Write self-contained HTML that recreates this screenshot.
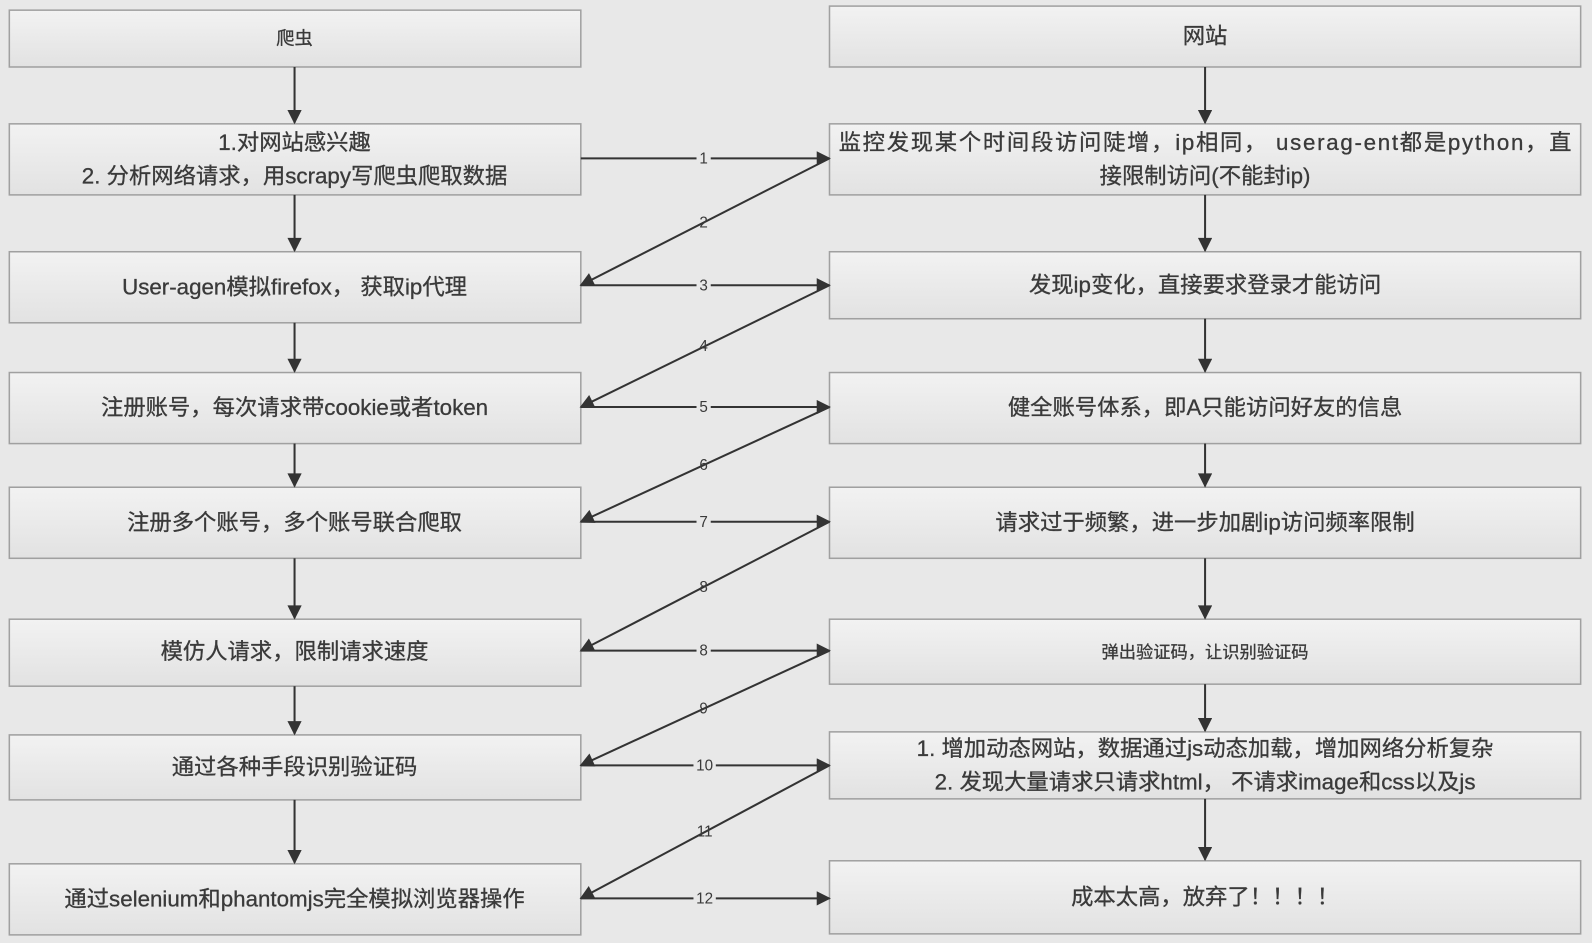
<!DOCTYPE html>
<html><head><meta charset="utf-8"><style>
html,body{margin:0;padding:0;background:#e8e8e8;}
svg{display:block}
text{font-family:"Liberation Sans","Noto Sans CJK SC",sans-serif;fill:#3a3a3a;}
.t{stroke:#3a3a3a;stroke-width:0.3px;}
</style></head><body>
<svg width="1592" height="943" viewBox="0 0 1568 929" xmlns="http://www.w3.org/2000/svg">
<defs>
<linearGradient id="g" x1="0" y1="0" x2="0" y2="1"><stop offset="0" stop-color="#f2f2f2"/><stop offset="1" stop-color="#e2e2e2"/></linearGradient>
<marker id="b" viewBox="0 0 10 10" refX="9" refY="5" markerWidth="16" markerHeight="14" markerUnits="userSpaceOnUse" orient="auto"><path d="M0,0 L10,5 L0,10 z" fill="#333"/></marker>
</defs>
<rect width="1568" height="929" fill="#e8e8e8"/>
<g stroke="#a0a0a0" stroke-width="1.5" fill="url(#g)">
<rect x="9" y="10" width="563" height="56"/><rect x="9" y="122" width="563" height="70"/><rect x="9" y="248" width="563" height="70"/><rect x="9" y="367" width="563" height="70"/><rect x="9" y="480" width="563" height="70"/><rect x="9" y="610" width="563" height="66"/><rect x="9" y="724" width="563" height="64"/><rect x="9" y="851" width="563" height="70"/>
<rect x="817" y="6" width="740" height="60"/><rect x="817" y="122" width="740" height="70"/><rect x="817" y="248" width="740" height="66"/><rect x="817" y="367" width="740" height="70"/><rect x="817" y="480" width="740" height="70"/><rect x="817" y="610" width="740" height="64"/><rect x="817" y="721" width="740" height="66"/><rect x="817" y="848" width="740" height="72"/>
</g>
<g stroke="#333" stroke-width="2" fill="none" marker-end="url(#b)">
<line x1="290" y1="66" x2="290" y2="121"/><line x1="290" y1="192" x2="290" y2="247"/><line x1="290" y1="318" x2="290" y2="366"/><line x1="290" y1="437" x2="290" y2="479"/><line x1="290" y1="550" x2="290" y2="609"/><line x1="290" y1="676" x2="290" y2="723"/><line x1="290" y1="788" x2="290" y2="850"/>
<line x1="1187" y1="66" x2="1187" y2="121"/><line x1="1187" y1="192" x2="1187" y2="247"/><line x1="1187" y1="314" x2="1187" y2="366"/><line x1="1187" y1="437" x2="1187" y2="479"/><line x1="1187" y1="550" x2="1187" y2="609"/><line x1="1187" y1="674" x2="1187" y2="720"/><line x1="1187" y1="787" x2="1187" y2="847"/>
<line x1="572" y1="156" x2="817" y2="156"/><line x1="572" y1="281" x2="817" y2="281"/><line x1="572" y1="401" x2="817" y2="401"/><line x1="572" y1="514" x2="817" y2="514"/><line x1="572" y1="641" x2="817" y2="641"/><line x1="572" y1="754" x2="817" y2="754"/><line x1="572" y1="885" x2="817" y2="885"/>
<line x1="817" y1="156" x2="572" y2="281"/><line x1="817" y1="281" x2="572" y2="401"/><line x1="817" y1="401" x2="572" y2="514"/><line x1="817" y1="514" x2="572" y2="641"/><line x1="817" y1="641" x2="572" y2="754"/><line x1="817" y1="754" x2="572" y2="885"/>
</g>
<g font-size="15" text-anchor="middle">
<g fill="#e8e8e8"><rect x="686" y="148" width="14" height="16"/><rect x="686" y="273" width="14" height="16"/><rect x="686" y="393" width="14" height="16"/><rect x="686" y="506" width="14" height="16"/><rect x="686" y="633" width="14" height="16"/><rect x="683" y="746" width="22" height="16"/><rect x="683" y="877" width="22" height="16"/></g>
<text x="693" y="161">1</text><text x="693" y="224">2</text><text x="693" y="286">3</text><text x="693" y="346">4</text><text x="693" y="406">5</text><text x="693" y="463">6</text><text x="693" y="519">7</text><text x="693" y="583">8</text><text x="693" y="646">8</text><text x="693" y="703">9</text><text x="694" y="759">10</text><text x="694" y="824">11</text><text x="694" y="890">12</text>
</g>
<g text-anchor="middle" font-size="22" class="t">
<text x="290" y="44" font-size="18">爬虫</text>
<text x="290" y="148">1.对网站感兴趣</text>
<text x="290" y="181">2. 分析网络请求，用scrapy写爬虫爬取数据</text>
<text x="290" y="290">User-agen模拟firefox，  获取ip代理</text>
<text x="290" y="409">注册账号，每次请求带cookie或者token</text>
<text x="290" y="522">注册多个账号，多个账号联合爬取</text>
<text x="290" y="649">模仿人请求，限制请求速度</text>
<text x="290" y="763">通过各种手段识别验证码</text>
<text x="290" y="893">通过selenium和phantomjs完全模拟浏览器操作</text>
<text x="1187" y="43">网站</text>
<text x="1187" y="148" textLength="722" lengthAdjust="spacing">监控发现某个时间段访问陡增，ip相同， userag-ent都是python，直</text>
<text x="1187" y="181">接限制访问(不能封ip)</text>
<text x="1187" y="288">发现ip变化，直接要求登录才能访问</text>
<text x="1187" y="409">健全账号体系，即A只能访问好友的信息</text>
<text x="1187" y="522">请求过于频繁，进一步加剧ip访问频率限制</text>
<text x="1187" y="648" font-size="17">弹出验证码，让识别验证码</text>
<text x="1187" y="745">1. 增加动态网站，数据通过js动态加载，增加网络分析复杂</text>
<text x="1187" y="778">2. 发现大量请求只请求html， 不请求image和css以及js</text>
<text x="1187" y="891">成本太高，放弃了！！！！</text>
</g>
</svg>
</body></html>
